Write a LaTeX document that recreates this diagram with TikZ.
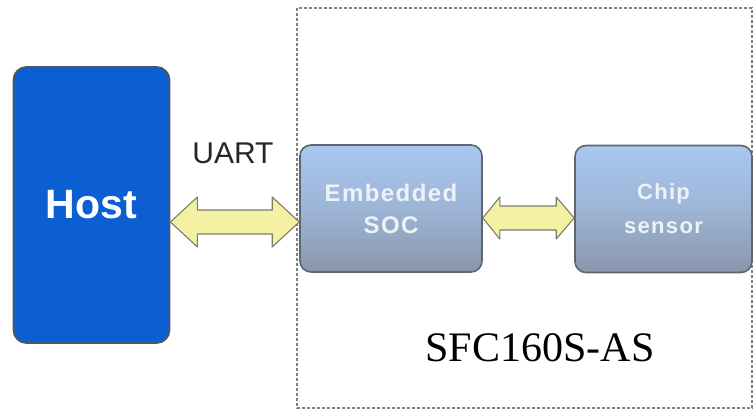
\documentclass[tikz,border=0pt]{standalone}
\usepackage{fontspec}
\setmainfont{Liberation Serif}
\setsansfont{Liberation Sans}
\newfontfamily\boxfont[LetterSpace=6]{Liberation Sans}
\usetikzlibrary{calc}
\definecolor{hostblue}{HTML}{0B5FD2}
\definecolor{hostedge}{HTML}{4E5862}
\definecolor{boxtop}{HTML}{A9C7F0}
\definecolor{boxmid}{HTML}{9DB5D6}
\definecolor{boxbot}{HTML}{8996AC}
\definecolor{boxedge}{HTML}{5E666F}
\definecolor{boxtext}{HTML}{EDF2F8}
\definecolor{arrowfill}{HTML}{F4F1A2}
\definecolor{arrowedge}{HTML}{7C7C6C}
\definecolor{dashgray}{HTML}{808080}
\tikzset{
  hostbox/.style={draw=hostedge, line width=1.8pt, fill=hostblue, rounded corners=13pt,
    minimum width=156pt, minimum height=276pt, inner sep=0pt,
    text=white, font=\sffamily\bfseries\fontsize{41}{44}\selectfont},
  blockbox/.style={draw=boxedge, line width=1.6pt, rounded corners=11pt,
    top color=boxtop, bottom color=boxbot, middle color=boxmid,
    minimum height=127pt, inner sep=0pt, align=center,
    text=boxtext, font=\boxfont\bfseries\fontsize{24}{32}\selectfont},
  bigarrow/.style={draw=arrowedge, line width=1.1pt, fill=arrowfill, line join=round},
  groupbox/.style={draw=dashgray, line width=2pt, dash pattern=on 3pt off 2pt},
}
\begin{document}
\begin{tikzpicture}[x=1pt,y=-1pt]
\useasboundingbox (0,0) rectangle (753,414);
\fill[white] (0,0) rectangle (753,414);
% group frame
\draw[groupbox] (297,8) rectangle (752,408);
% blocks
\node[hostbox] (host) at (91.5,205) {Host};
\node[blockbox, minimum width=182pt] (soc) at (391,208.5) {Embedded\\SOC};
\node[blockbox, minimum width=177pt, font=\boxfont\bfseries\fontsize{22}{34}\selectfont] (chip) at (663.5,209) {Chip\\sensor};
% labels
\node[font=\sffamily\fontsize{30}{32}\selectfont, text=black!85] (uart) at (233,153) {UART};
\node[font=\rmfamily\fontsize{42}{44}\selectfont] (model) at (540,348) {SFC160S-AS};
% arrow levels
\coordinate (ay1) at (0,222);
\coordinate (ay2) at (0,218);
% Host <-> SOC
\draw[bigarrow] let \p1=(host.east |- ay1), \p2=(soc.west |- ay1) in
  (\x1,\y1) -- (\x1+27pt,\y1+25pt) -- (\x1+27pt,\y1+12pt) -- (\x2-27pt,\y1+12pt)
  -- (\x2-27pt,\y1+25pt) -- (\x2,\y1) -- (\x2-27pt,\y1-25pt) -- (\x2-27pt,\y1-12pt)
  -- (\x1+27pt,\y1-12pt) -- (\x1+27pt,\y1-25pt) -- cycle;
% SOC <-> Chip
\draw[bigarrow] let \p1=(soc.east |- ay2), \p2=(chip.west |- ay2) in
  (\x1,\y1) -- (\x1+17pt,\y1+21pt) -- (\x1+17pt,\y1+12pt) -- (\x2-18pt,\y1+12pt)
  -- (\x2-18pt,\y1+21pt) -- (\x2,\y1) -- (\x2-18pt,\y1-21pt) -- (\x2-18pt,\y1-12pt)
  -- (\x1+17pt,\y1-12pt) -- (\x1+17pt,\y1-21pt) -- cycle;
\end{tikzpicture}
\end{document}
